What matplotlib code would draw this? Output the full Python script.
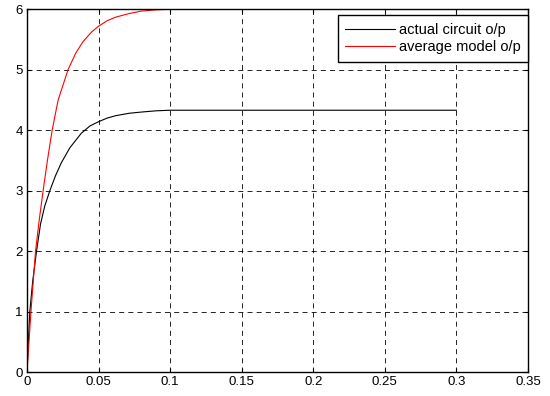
import numpy as np
import matplotlib
matplotlib.use("Agg")
import matplotlib.pyplot as plt

plt.rcParams['font.family'] = ['Liberation Sans', 'DejaVu Sans']

# actual circuit output
t_act = [0, 0.001, 0.002, 0.004, 0.0067, 0.0095, 0.0125, 0.016, 0.02, 0.024,
         0.03, 0.038, 0.044, 0.05, 0.056, 0.062, 0.0715, 0.08, 0.09, 0.1, 0.2, 0.3]
y_act = [0, 0.5, 1.0, 1.5, 2.0, 2.45, 2.75, 3.0, 3.25, 3.46,
         3.71, 3.95, 4.07, 4.14, 4.2, 4.24, 4.28, 4.30, 4.32, 4.33, 4.33, 4.33]

# average model output
t_avg = [0, 0.001, 0.0028, 0.006, 0.0085, 0.0113, 0.0143, 0.0176, 0.0218, 0.0287,
         0.034, 0.039, 0.045, 0.05, 0.056, 0.062, 0.0715, 0.08, 0.09, 0.1, 0.2, 0.3]
y_avg = [0, 0.35, 1.0, 2.0, 2.5, 3.0, 3.5, 4.0, 4.5, 5.0,
         5.27, 5.46, 5.62, 5.72, 5.81, 5.87, 5.93, 5.97, 5.99, 6.0, 6.0, 6.0]

fig = plt.figure(figsize=(5.5, 3.96), dpi=100)
ax = fig.add_axes([0.049, 0.0606, 0.911, 0.916])

ax.plot(t_act, y_act, color='black', lw=0.8, label='actual circuit o/p')
ax.plot(t_avg, y_avg, color='red', lw=0.8, label='average model o/p')

ax.set_xlim(0, 0.35)
ax.set_ylim(0, 6)
ax.set_xticks(np.arange(0, 0.351, 0.05))
ax.set_xticklabels(['0', '0.05', '0.1', '0.15', '0.2', '0.25', '0.3', '0.35'])
ax.set_yticks(range(7))
ax.grid(True, color='black', linestyle=(0, (6, 5)), lw=0.6)
ax.tick_params(direction='in', top=True, right=True, labelsize=9.5, length=3, pad=3)
for s in ax.spines.values():
    s.set_linewidth(1.0)

leg = ax.legend(loc='upper right', bbox_to_anchor=(1.0, 0.983), borderaxespad=0,
                fontsize=10.5, fancybox=False, framealpha=1, edgecolor='black',
                handlelength=3.4, handletextpad=0.3, borderpad=0.5, labelspacing=0.25)
leg.get_frame().set_linewidth(1.0)

fig.savefig('out.png', dpi=100)
